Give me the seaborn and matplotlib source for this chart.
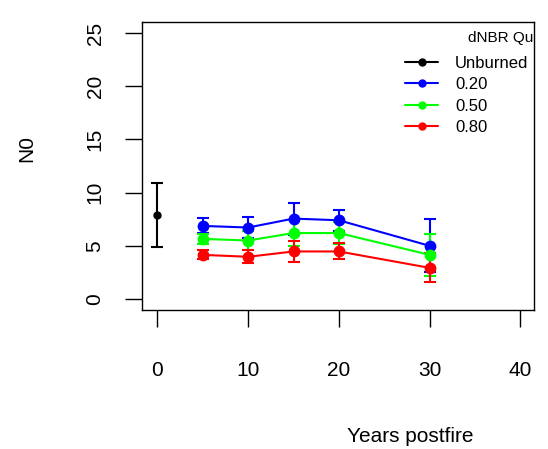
import numpy as np
import pandas as pd
import seaborn as sns
import matplotlib.pyplot as plt
from matplotlib.lines import Line2D

# === Data ===
years = [5, 10, 15, 20, 30]
n0_q20 = [6.87, 6.72, 7.56, 7.40, 5.00]
n0_q50 = [5.65, 5.50, 6.20, 6.20, 4.15]
n0_q80 = [4.15, 3.97, 4.47, 4.47, 2.93]
err_q20 = [0.70, 1.00, 1.50, 1.00, 2.50]
err_q50 = [0.50, 0.90, 1.20, 1.05, 2.00]
err_q80 = [0.42, 0.60, 0.95, 0.75, 1.35]

unburned_year = [0]
unburned_n0 = [7.9]
unburned_err = [3.0]

quantiles = ["0.20", "0.50", "0.80"]
colors = {"0.20": "#0000ff", "0.50": "#00ff00", "0.80": "#ff0000"}

df = pd.DataFrame({
    "year": years * 3,
    "n0": n0_q20 + n0_q50 + n0_q80,
    "err": err_q20 + err_q50 + err_q80,
    "q": [q for q in quantiles for _ in years],
})

# === Plotting ===
sns.set_style("white")
plt.rcParams["font.family"] = ["Liberation Sans", "DejaVu Sans"]
plt.rcParams["text.color"] = "black"
plt.rcParams["axes.labelcolor"] = "black"

fig = plt.figure(figsize=(5.48, 4.49), dpi=100)
ax = fig.add_axes([142 / 548, 1 - 310 / 449, 392 / 548, 288 / 449])

# error bars first, then lines/points on top
for q in quantiles:
    sub = df[df.q == q]
    ax.errorbar(sub.year, sub.n0, yerr=sub.err, fmt="none", ecolor=colors[q],
                elinewidth=1.5, capsize=4, capthick=1.5, zorder=2)

ax.errorbar(unburned_year, unburned_n0, yerr=unburned_err, fmt="o", color="black",
            ms=5, elinewidth=1.5, capsize=4, capthick=1.5, zorder=3)

sns.lineplot(data=df, x="year", y="n0", hue="q", palette=colors, marker="o",
             markersize=8.5, markeredgewidth=0, linewidth=1.5, legend=False,
             ax=ax, zorder=4)

ax.set_xlim(-1.7, 41.5)
ax.set_ylim(-1.03, 26.03)
ax.set_xticks([0, 10, 20, 30, 40])
ax.set_yticks([0, 5, 10, 15, 20, 25])
ax.tick_params(axis="both", direction="out", length=12, width=1, colors="black",
               labelsize=15, bottom=True, left=True)
ax.tick_params(axis="x", pad=25)
ax.tick_params(axis="y", pad=15)
for lab in ax.get_yticklabels():
    lab.set_rotation(90)
    lab.set_va("center")

for sp in ax.spines.values():
    sp.set_visible(True)
    sp.set_color("black")
    sp.set_linewidth(1)

ax.set_xlabel("Years postfire", fontsize=15, color="black")
ax.set_ylabel("N0", fontsize=15, color="black")
ax.xaxis.set_label_coords(0.684, -0.405)
ax.yaxis.set_label_coords(-0.27, 0.56)

# legend
handles = [Line2D([], [], color="black", marker="o", ms=5, lw=1.5)]
labels = ["Unburned"]
for q in quantiles:
    handles.append(Line2D([], [], color=colors[q], marker="o", ms=5, lw=1.5))
    labels.append(q)
leg = ax.legend(handles, labels, loc="upper left",
                bbox_to_anchor=((405 - 142) / 392, (310 - 56) / 288),
                frameon=False, fontsize=12, handlelength=2.0, handletextpad=1.0,
                labelspacing=0.38, borderaxespad=0, borderpad=0)
for t in leg.get_texts():
    t.set_color("black")
# title is clipped by the plot box, as in the original
ax.text((468 - 142) / 392, (310 - 38) / 288, "dNBR Quantile", transform=ax.transAxes,
        fontsize=11, va="center", ha="left", clip_on=True, color="black")

fig.savefig("out.png", dpi=100)
